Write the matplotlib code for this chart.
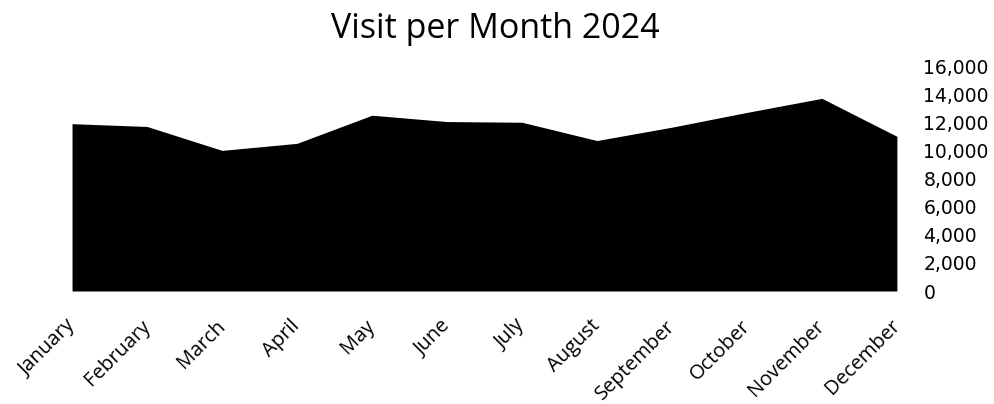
import matplotlib.pyplot as plt
import matplotlib.transforms as mtransforms
from matplotlib.ticker import FuncFormatter, MultipleLocator

months = ['January', 'February', 'March', 'April', 'May', 'June',
          'July', 'August', 'September', 'October', 'November', 'December']
visits = [11900, 11700, 10000, 10500, 12500, 12050,
          12000, 10700, 11650, 12700, 13700, 11000]

plt.rcParams['font.family'] = ['Open Sans', 'DejaVu Sans']

fig = plt.figure(figsize=(9.95, 4.04), dpi=100)
ax = fig.add_axes([0.0724, 0.2797, 0.829, 0.5569])

x = range(len(months))
ax.fill_between(x, visits, 0, color='black', linewidth=0)

ax.set_xlim(0, len(months) - 1)
ax.set_ylim(0, 16000)
ax.yaxis.set_major_locator(MultipleLocator(2000))
ax.yaxis.set_major_formatter(FuncFormatter(lambda v, p: f'{int(v):,}'))
ax.yaxis.tick_right()
ax.tick_params(axis='y', length=0, pad=19, labelsize=13.5)
for lbl in ax.get_yticklabels():
    lbl.set_fontfamily('DejaVu Sans')
ax.tick_params(axis='x', length=0, pad=18, labelsize=14.5)

ax.set_xticks(list(x))
ax.set_xticklabels(months, rotation=45, ha='right', va='top', rotation_mode='anchor')
# nudge month labels a little to the left
shift = mtransforms.ScaledTranslation(-5 / 72, 0, fig.dpi_scale_trans)
for lbl in ax.get_xticklabels():
    lbl.set_transform(lbl.get_transform() + shift)

for s in ax.spines.values():
    s.set_visible(False)

fig.suptitle('Visit per Month 2024', fontsize=24.5, x=0.4975, y=0.97)

plt.savefig('out.png', dpi=100)
